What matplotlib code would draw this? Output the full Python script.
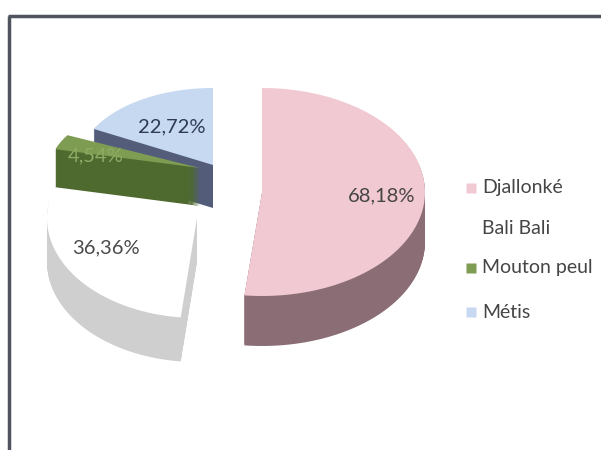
import numpy as np
import matplotlib.pyplot as plt
from matplotlib.patches import Polygon

labels = ['Djallonké', 'Bali Bali', 'Mouton peul', 'Métis']
values = [68.18, 36.36, 4.54, 22.72]
value_text = ['68,18%', '36,36%', '4,54%', '22,72%']
top_colors = ['#f1c9d2', '#ffffff', '#7e9c52', '#c6d9f1']
side_colors = ['#8b6d75', '#cfcfcf', '#4e6a2e', '#535d7a']
text_colors = ['#454545', '#4a4a4a', '#8fac66', '#2f3a55']

# exploded slices, in pixels: centre, (rx, ry) and thickness
centres = [(262, 192), (197, 218), (200, 168), (213, 165)]
radii = [(163, 104), (150, 100), (150, 70), (135, 77)]
depths = [50, 44, 38, 43]
label_pos = [(382, 196), (106, 248), (96, 156), (172, 127)]

plt.rcParams['font.family'] = ['Lato', 'DejaVu Sans']

fig = plt.figure(figsize=(6.01, 4.5), dpi=100)
ax = fig.add_axes([0, 0, 1, 1])
ax.set_xlim(0, 601)
ax.set_ylim(450, 0)
ax.axis('off')

# clockwise from 12 o'clock
frac = np.array(values) / sum(values) * 360
ends = 90 - np.cumsum(frac)
starts = ends + frac


def wedge_points(cx, cy, rx, ry, a0, a1):
    t = np.radians(np.linspace(a0, a1, 120))
    xs = np.concatenate([[cx], cx + rx * np.cos(t)])
    ys = np.concatenate([[cy], cy - ry * np.sin(t)])
    return np.column_stack([xs, ys])


# back slices first so the front ones sit on top
for i in [3, 2, 1, 0]:
    cx, cy = centres[i]
    rx, ry = radii[i]
    pts = wedge_points(cx, cy, rx, ry, ends[i], starts[i])
    for k in range(depths[i], 0, -1):
        ax.add_patch(Polygon(pts + [0, k], closed=True, facecolor=side_colors[i],
                             edgecolor='none'))
    ax.add_patch(Polygon(pts, closed=True, facecolor=top_colors[i], edgecolor='none'))

for i in range(4):
    ax.text(label_pos[i][0], label_pos[i][1], value_text[i], fontsize=14.5,
            color=text_colors[i], ha='center', va='center')

# legend
leg_y = [188, 229, 268, 312]
for i in range(4):
    ax.plot(471, leg_y[i], marker='s', markersize=6.5, color=top_colors[i],
            markeredgecolor='none')
    ax.text(482, leg_y[i], labels[i], fontsize=14, color='#454545', va='center')

# chart border (top and left edges)
ax.plot([8, 601], [16, 16], color='#50545e', lw=2.5, solid_capstyle='butt')
ax.plot([9, 9], [16, 450], color='#50545e', lw=2.5, solid_capstyle='butt')

fig.savefig('out.png', dpi=100)
